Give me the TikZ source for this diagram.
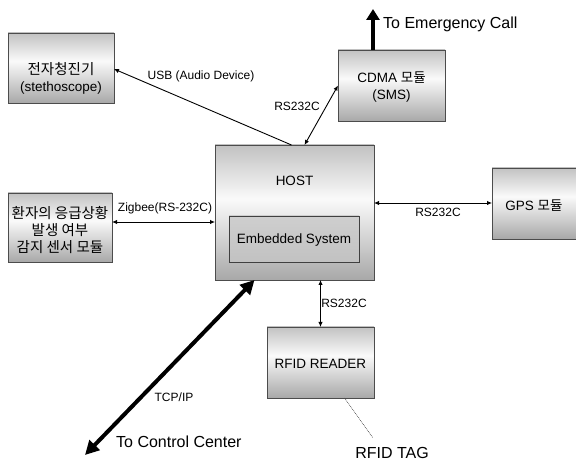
\documentclass[tikz,border=0pt]{standalone}
\usepackage{fontspec}
\setmainfont{Liberation Sans}
\newfontfamily\kr{Noto Sans CJK KR}
\usetikzlibrary{arrows.meta,calc}
\pgfdeclareverticalshading{boxshade}{100bp}{color(0bp)=(gray!68); color(25bp)=(gray!68); color(55bp)=(white!96!gray); color(75bp)=(gray!48); color(100bp)=(gray!48)}
\pgfdeclareverticalshading{inshade}{100bp}{color(0bp)=(gray!48); color(25bp)=(gray!48); color(75bp)=(gray!38); color(100bp)=(gray!38)}
\tikzset{
  box/.style={draw=black!70, line width=0.8pt, shading=boxshade, inner sep=0pt, outer sep=0pt},
  inbox/.style={draw=black!75, line width=0.8pt, shading=inshade, inner sep=0pt, outer sep=0pt},
  btxt/.style={font=\fontsize{13.5}{17}\selectfont, align=center, inner sep=0pt},
  krtxt/.style={font=\kr\fontsize{14.5}{17}\selectfont, align=center, inner sep=0pt},
  lbl/.style={font=\fontsize{12}{14}\selectfont, inner sep=0pt},
  big/.style={font=\fontsize{16}{18}\selectfont, inner sep=0pt},
  thin/.style={line width=0.9pt, {Latex[length=5pt,width=4.5pt]}-{Latex[length=5pt,width=4.5pt]}},
  thinr/.style={line width=0.9pt, -{Latex[length=5pt,width=4.5pt]}},
  thick/.style={line width=4pt, -{Triangle[length=11pt,width=13pt]}},
  thickd/.style={line width=4pt, {Triangle[length=14pt,width=14pt]}-{Triangle[length=14pt,width=14pt]}},
}
\begin{document}
\begin{tikzpicture}[x=1pt,y=-1pt]
\useasboundingbox (0,0) rectangle (576,462);
% boxes
\node[box, minimum width=106pt, minimum height=70pt] (stetho) at (61,68) {};
\node[btxt] (stethot) at (61,78) {{\kr\fontsize{14.5}{17}\selectfont 전자청진기}\\(stethoscope)};
\node[box, minimum width=107pt, minimum height=71pt] (cdma) at (391.5,85.5) {};
\node[btxt] (cdmat) at (391.5,87) {CDMA {\kr 모듈}\\(SMS)};
\node[box, minimum width=159pt, minimum height=135pt] (host) at (294.5,212.5) {};
\node[btxt] (hostt) at (294.5,181) {HOST};
\node[inbox, minimum width=130pt, minimum height=46pt] (emb) at (294,239) {};
\node[btxt] (embt) at (294,240) {Embedded System};
\node[box, minimum width=104pt, minimum height=69pt] (sensor) at (60,227.5) {};
\node[krtxt] (sensort) at (60,230) {환자의 응급상황\\발생 여부\\감지 센서 모듈};
\node[box, minimum width=84pt, minimum height=71pt] (gps) at (534,203.5) {};
\node[btxt] (gpst) at (534,206) {GPS {\kr 모듈}};
\node[box, minimum width=107pt, minimum height=71pt] (rfid) at (320.5,362.5) {};
\node[btxt] (rfidt) at (320.5,364) {RFID READER};
% free ends
\coordinate (em) at (373,9);
\coordinate (cc) at (85,455);
\coordinate (tag) at (373,438);
% connectors
\draw[thinr] ([xshift=-3pt]host.north) -- ([yshift=-1pt]stetho.east);
\draw[thin] ([xshift=10pt]host.north) -- (cdma.west);
\draw[thin] ([yshift=5.5pt]sensor.east) -- ([yshift=-9.5pt]host.west);
\draw[thin] ([yshift=9.5pt]host.east) -- ([yshift=0.5pt]gps.west);
\draw[thin] (rfid.north |- host.south) -- (rfid.north);
\draw[thick] ([xshift=-18.5pt]cdma.north) -- (em);
\draw[thickd] ([xshift=-40pt]host.south) -- (cc);
\draw[densely dotted, line width=0.7pt, black!70] ([xshift=24pt]rfid.south) -- (tag);
% labels
\node[lbl] (usbl) at (201,76) {USB (Audio Device)};
\node[lbl] (cdmal) at (297,106) {RS232C};
\node[lbl] (zigl) at (165,208) {Zigbee(RS-232C)};
\node[lbl] (gpsl) at (438,212) {RS232C};
\node[lbl] (rfidl) at (344,303) {RS232C};
\node[lbl] (tcpl) at (174,397) {TCP/IP};
\node[big, anchor=west] (ccl) at (116,442) {To Control Center};
\node[big, anchor=west] (eml) at (383,24) {To Emergency Call};
\node[big] (tagl) at (392,453) {RFID TAG};
\end{tikzpicture}
\end{document}
